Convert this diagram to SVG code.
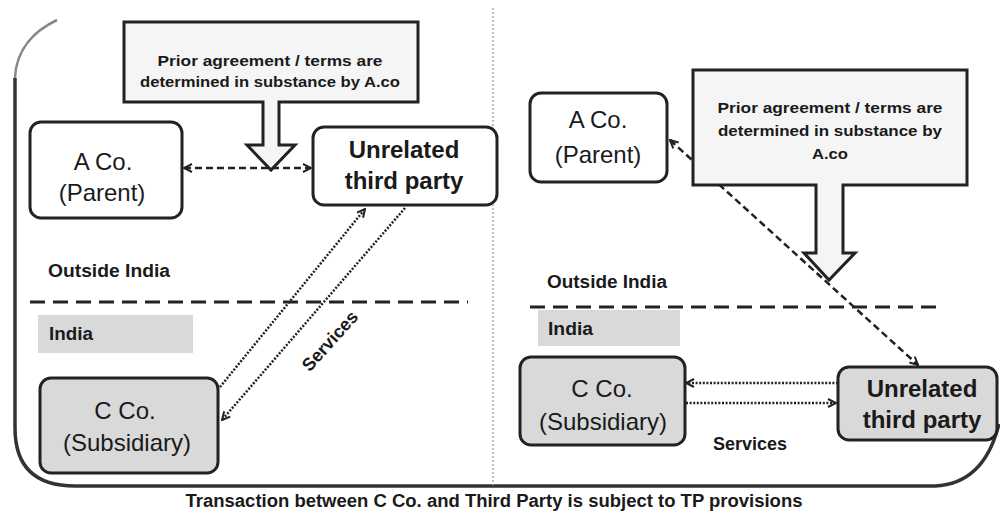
<svg xmlns="http://www.w3.org/2000/svg" width="1000" height="515" viewBox="0 0 1000 515">
<defs>
<style>
.box{stroke:#222;stroke-width:3;fill:#fff}
.gbox{stroke:#222;stroke-width:3;fill:#d9d9d9}
.call{stroke:#222;stroke-width:3;fill:#f5f5f5;stroke-linejoin:miter}
.t{font-family:"Liberation Sans",Arial,sans-serif;fill:#1a1a1a;text-anchor:middle}
.big{font-size:24px}
.bigb{font-size:24px;font-weight:bold}
.lab{font-size:18px;font-weight:bold;text-anchor:start}
.ct{font-size:15px;font-weight:bold}
.dash{fill:none;stroke:#222;stroke-width:2.5;stroke-dasharray:7 4}
.dot{fill:none;stroke:#222;stroke-width:2.5;stroke-dasharray:2 1.6}
.region{fill:none;stroke:#222;stroke-width:3;stroke-dasharray:15 8}
</style>
<marker id="ah" viewBox="0 0 10 10" refX="9" refY="5" markerWidth="10" markerHeight="10" markerUnits="userSpaceOnUse" orient="auto-start-reverse">
<path d="M1,1 L9,5 L1,9" fill="none" stroke="#222" stroke-width="2"/>
</marker>
</defs>
<rect width="1000" height="515" fill="#fff"/>
<g id="frame">
<path d="M57,20 C36,30 16,48 15,78" fill="none" stroke="#888" stroke-width="2.5"/>
<path d="M15,78 L15,428 Q15,486 75,486 L935,486 Q984,484 999,424" fill="none" stroke="#333" stroke-width="3.5"/>
<line x1="493" y1="8" x2="493" y2="485" stroke="#aaa" stroke-width="1.5" stroke-dasharray="2 2"/>
</g>
<g id="regions">
<line class="region" x1="30" y1="302" x2="468" y2="302"/>
<line class="region" x1="530" y1="307" x2="938" y2="307"/>
<rect x="38" y="315" width="155" height="38" fill="#d9d9d9"/>
<rect x="538" y="310" width="142" height="36" fill="#d9d9d9"/>
<text class="t lab" x="48" y="277" textLength="122" lengthAdjust="spacingAndGlyphs">Outside India</text>
<text class="t lab" x="49" y="340" textLength="44" lengthAdjust="spacingAndGlyphs">India</text>
<text class="t lab" x="547" y="288" textLength="120" lengthAdjust="spacingAndGlyphs">Outside India</text>
<text class="t lab" x="548" y="335" textLength="45" lengthAdjust="spacingAndGlyphs">India</text>
</g>
<g id="connectors">
<line class="dash" x1="184" y1="168" x2="311" y2="168" marker-start="url(#ah)" marker-end="url(#ah)"/>
<line class="dot" x1="220" y1="387" x2="365" y2="209" marker-end="url(#ah)"/>
<line class="dot" x1="405" y1="208" x2="222" y2="420" marker-end="url(#ah)"/>
<text class="t lab" x="330" y="347" style="text-anchor:middle" transform="rotate(-48 330 341)">Services</text>
<line class="dash" x1="670" y1="140" x2="918" y2="365" marker-start="url(#ah)" marker-end="url(#ah)"/>
<line class="dot" x1="838" y1="383" x2="686" y2="383" marker-end="url(#ah)"/>
<line class="dot" x1="686" y1="403" x2="836" y2="403" marker-end="url(#ah)"/>
<text class="t lab" x="750" y="450" style="text-anchor:middle" textLength="74" lengthAdjust="spacingAndGlyphs">Services</text>
</g>
<g id="left-acol">
<rect class="box" x="30" y="122" width="152" height="96" rx="11"/>
<text class="t big" x="103" y="170">A Co.</text>
<text class="t big" x="102" y="201">(Parent)</text>
</g>
<g id="left-unrelated">
<rect class="box" x="313" y="127" width="184" height="78" rx="11"/>
<text class="t bigb" x="404" y="158">Unrelated</text>
<text class="t bigb" x="404" y="189">third party</text>
</g>
<g id="left-cco">
<rect class="gbox" x="40" y="378" width="178" height="95" rx="11"/>
<text class="t big" x="125" y="419">C Co.</text>
<text class="t big" x="127" y="451">(Subsidiary)</text>
</g>
<g id="left-callout">
<path class="call" d="M124,22 H418 V102 H279 V145 H295 L271,170 L247,145 H263 V102 H124 Z"/>
<text class="t ct" x="270" y="66" textLength="225" lengthAdjust="spacingAndGlyphs">Prior agreement / terms are</text>
<text class="t ct" x="270" y="87" textLength="260" lengthAdjust="spacingAndGlyphs">determined in substance by A.co</text>
</g>
<g id="right-aco">
<rect class="box" x="530" y="93" width="137" height="89" rx="11"/>
<text class="t big" x="598" y="128">A Co.</text>
<text class="t big" x="598" y="163">(Parent)</text>
</g>
<g id="right-callout">
<path class="call" d="M693,70 H967 V185 H843 V253 H855 L829,280 L804,253 H816 V185 H693 Z"/>
<text class="t ct" x="830" y="113" textLength="225" lengthAdjust="spacingAndGlyphs">Prior agreement / terms are</text>
<text class="t ct" x="830" y="136" textLength="224" lengthAdjust="spacingAndGlyphs">determined in substance by</text>
<text class="t ct" x="830" y="159" textLength="36" lengthAdjust="spacingAndGlyphs">A.co</text>
</g>
<g id="right-cco">
<rect class="gbox" x="520" y="357" width="165" height="88" rx="11"/>
<text class="t big" x="602" y="397">C Co.</text>
<text class="t big" x="603" y="430">(Subsidiary)</text>
</g>
<g id="right-unrelated">
<rect class="gbox" x="838" y="367" width="159" height="73" rx="11"/>
<text class="t bigb" x="922" y="397">Unrelated</text>
<text class="t bigb" x="922" y="428">third party</text>
</g>
<text class="t" x="494" y="507" style="font-size:18px;font-weight:bold" textLength="617" lengthAdjust="spacingAndGlyphs">Transaction between C Co. and Third Party is subject to TP provisions</text>
</svg>
